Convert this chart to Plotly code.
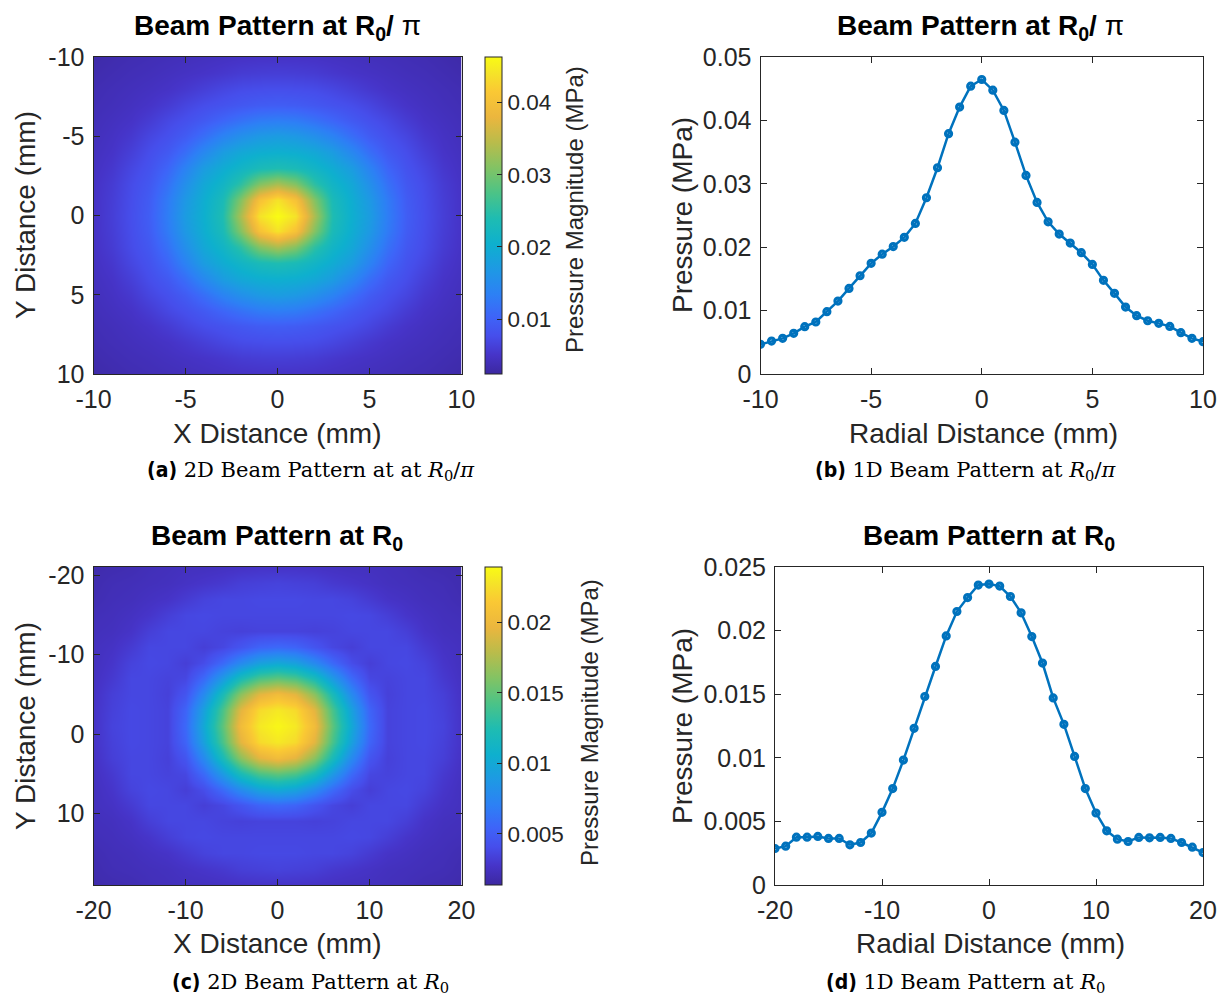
import numpy as np
import plotly.graph_objects as go

# ---------------------------------------------------------------------------
# Data
# ---------------------------------------------------------------------------
# 1D beam pattern at R0/pi : radial distance (mm) and pressure (MPa)
radial_b_mm = np.linspace(-10, 10, 41)
pressure_b_mpa = [
    0.00468, 0.00520, 0.00562, 0.00641, 0.00746, 0.00820, 0.00983, 0.01150,
    0.01350, 0.01550, 0.01745, 0.01890, 0.02010, 0.02155, 0.02375, 0.02780,
    0.03253, 0.03790, 0.04210, 0.04540, 0.04645, 0.04477, 0.04157, 0.03657,
    0.03132, 0.02706, 0.02401, 0.02207, 0.02065, 0.01913, 0.01729, 0.01477,
    0.01272, 0.01056, 0.00920, 0.00840, 0.00799, 0.00751, 0.00652, 0.00562,
    0.00510,
]

# 1D beam pattern at R0 : radial distance (mm) and pressure (MPa)
radial_d_mm = np.linspace(-20, 20, 41)
pressure_d_mpa = [
    0.00287, 0.00305, 0.00376, 0.00376, 0.00382, 0.00366, 0.00366, 0.00316,
    0.00334, 0.00408, 0.00571, 0.00758, 0.00982, 0.01232, 0.01482, 0.01718,
    0.01958, 0.02150, 0.02260, 0.02358, 0.02366, 0.02350, 0.02268, 0.02140,
    0.01953, 0.01745, 0.01471, 0.01263, 0.01011, 0.00758, 0.00566, 0.00426,
    0.00360, 0.00342, 0.00374, 0.00371, 0.00374, 0.00366, 0.00334, 0.00297,
    0.00255,
]

# 2D beam pattern at R0/pi : scan grid (mm) and pressure magnitude (kPa)
x_a_mm = list(range(-10, 11))
y_a_mm = list(range(-10, 11))
pressure_a_kpa = [
    [3.0, 3.3, 3.6, 3.8, 4.0, 4.2, 4.4, 4.6, 4.8, 4.9, 4.9, 4.9, 4.8, 4.6, 4.4, 4.2, 4.0, 3.8, 3.6, 3.3, 3.0],
    [3.3, 3.6, 3.9, 4.1, 4.4, 4.7, 5.0, 5.4, 5.8, 6.0, 6.1, 6.0, 5.8, 5.4, 5.0, 4.7, 4.4, 4.1, 3.9, 3.6, 3.3],
    [3.6, 3.9, 4.2, 4.5, 4.9, 5.5, 6.2, 6.9, 7.4, 7.6, 7.7, 7.6, 7.4, 6.9, 6.2, 5.5, 4.9, 4.5, 4.2, 3.9, 3.6],
    [3.8, 4.1, 4.5, 5.0, 5.8, 6.8, 7.6, 8.2, 8.8, 9.3, 9.5, 9.3, 8.8, 8.2, 7.6, 6.8, 5.8, 5.0, 4.5, 4.1, 3.8],
    [4.0, 4.4, 4.9, 5.8, 7.0, 7.9, 9.0, 10.4, 11.7, 12.8, 13.1, 12.8, 11.7, 10.4, 9.0, 7.9, 7.0, 5.8, 4.9, 4.4, 4.0],
    [4.2, 4.7, 5.5, 6.8, 7.9, 9.3, 11.4, 13.8, 15.6, 16.9, 17.4, 16.9, 15.6, 13.8, 11.4, 9.3, 7.9, 6.8, 5.5, 4.7, 4.2],
    [4.4, 5.0, 6.2, 7.6, 9.0, 11.4, 14.5, 17.4, 19.1, 20.0, 20.3, 20.0, 19.1, 17.4, 14.5, 11.4, 9.0, 7.6, 6.2, 5.0, 4.4],
    [4.6, 5.4, 6.9, 8.2, 10.4, 13.8, 17.4, 19.7, 21.5, 23.2, 23.9, 23.2, 21.5, 19.7, 17.4, 13.8, 10.4, 8.2, 6.9, 5.4, 4.6],
    [4.8, 5.8, 7.4, 8.8, 11.7, 15.6, 19.1, 21.5, 25.1, 31.0, 33.5, 31.0, 25.1, 21.5, 19.1, 15.6, 11.7, 8.8, 7.4, 5.8, 4.8],
    [4.9, 6.0, 7.6, 9.3, 12.8, 16.9, 20.0, 23.2, 31.0, 40.5, 44.0, 40.5, 31.0, 23.2, 20.0, 16.9, 12.8, 9.3, 7.6, 6.0, 4.9],
    [4.9, 6.1, 7.7, 9.5, 13.1, 17.4, 20.3, 23.9, 33.5, 44.0, 46.4, 44.0, 33.5, 23.9, 20.3, 17.4, 13.1, 9.5, 7.7, 6.1, 4.9],
    [4.9, 6.0, 7.6, 9.3, 12.8, 16.9, 20.0, 23.2, 31.0, 40.5, 44.0, 40.5, 31.0, 23.2, 20.0, 16.9, 12.8, 9.3, 7.6, 6.0, 4.9],
    [4.8, 5.8, 7.4, 8.8, 11.7, 15.6, 19.1, 21.5, 25.1, 31.0, 33.5, 31.0, 25.1, 21.5, 19.1, 15.6, 11.7, 8.8, 7.4, 5.8, 4.8],
    [4.6, 5.4, 6.9, 8.2, 10.4, 13.8, 17.4, 19.7, 21.5, 23.2, 23.9, 23.2, 21.5, 19.7, 17.4, 13.8, 10.4, 8.2, 6.9, 5.4, 4.6],
    [4.4, 5.0, 6.2, 7.6, 9.0, 11.4, 14.5, 17.4, 19.1, 20.0, 20.3, 20.0, 19.1, 17.4, 14.5, 11.4, 9.0, 7.6, 6.2, 5.0, 4.4],
    [4.2, 4.7, 5.5, 6.8, 7.9, 9.3, 11.4, 13.8, 15.6, 16.9, 17.4, 16.9, 15.6, 13.8, 11.4, 9.3, 7.9, 6.8, 5.5, 4.7, 4.2],
    [4.0, 4.4, 4.9, 5.8, 7.0, 7.9, 9.0, 10.4, 11.7, 12.8, 13.1, 12.8, 11.7, 10.4, 9.0, 7.9, 7.0, 5.8, 4.9, 4.4, 4.0],
    [3.8, 4.1, 4.5, 5.0, 5.8, 6.8, 7.6, 8.2, 8.8, 9.3, 9.5, 9.3, 8.8, 8.2, 7.6, 6.8, 5.8, 5.0, 4.5, 4.1, 3.8],
    [3.6, 3.9, 4.2, 4.5, 4.9, 5.5, 6.2, 6.9, 7.4, 7.6, 7.7, 7.6, 7.4, 6.9, 6.2, 5.5, 4.9, 4.5, 4.2, 3.9, 3.6],
    [3.3, 3.6, 3.9, 4.1, 4.4, 4.7, 5.0, 5.4, 5.8, 6.0, 6.1, 6.0, 5.8, 5.4, 5.0, 4.7, 4.4, 4.1, 3.9, 3.6, 3.3],
    [3.0, 3.3, 3.6, 3.8, 4.0, 4.2, 4.4, 4.6, 4.8, 4.9, 4.9, 4.9, 4.8, 4.6, 4.4, 4.2, 4.0, 3.8, 3.6, 3.3, 3.0],
]

# 2D beam pattern at R0 : scan grid (mm) and pressure magnitude (kPa)
x_c_mm = list(range(-20, 21, 2))
y_c_mm = list(range(-21, 20, 2))
pressure_c_kpa = [
    [1.8, 1.9, 2.0, 2.2, 2.3, 2.4, 2.4, 2.5, 2.6, 2.7, 2.7, 2.7, 2.6, 2.5, 2.4, 2.4, 2.3, 2.2, 2.0, 1.9, 1.8],
    [1.9, 2.1, 2.2, 2.3, 2.4, 2.6, 2.8, 3.0, 3.3, 3.4, 3.5, 3.4, 3.3, 3.0, 2.8, 2.6, 2.4, 2.3, 2.2, 2.1, 1.9],
    [2.0, 2.2, 2.3, 2.5, 2.7, 3.1, 3.5, 3.7, 3.7, 3.8, 3.8, 3.8, 3.7, 3.7, 3.5, 3.1, 2.7, 2.5, 2.3, 2.2, 2.0],
    [2.2, 2.3, 2.5, 2.8, 3.3, 3.7, 3.8, 3.7, 3.7, 3.7, 3.7, 3.7, 3.7, 3.7, 3.8, 3.7, 3.3, 2.8, 2.5, 2.3, 2.2],
    [2.3, 2.4, 2.7, 3.3, 3.7, 3.7, 3.7, 3.5, 3.4, 3.5, 3.5, 3.5, 3.4, 3.5, 3.7, 3.7, 3.7, 3.3, 2.7, 2.4, 2.3],
    [2.4, 2.6, 3.1, 3.7, 3.7, 3.7, 3.3, 3.7, 4.5, 5.4, 5.7, 5.4, 4.5, 3.7, 3.3, 3.7, 3.7, 3.7, 3.1, 2.6, 2.4],
    [2.4, 2.8, 3.5, 3.8, 3.7, 3.3, 4.0, 5.7, 7.7, 9.4, 10.0, 9.4, 7.7, 5.7, 4.0, 3.3, 3.7, 3.8, 3.5, 2.8, 2.4],
    [2.5, 3.0, 3.7, 3.7, 3.5, 3.7, 5.7, 8.8, 12.0, 14.1, 14.8, 14.1, 12.0, 8.8, 5.7, 3.7, 3.5, 3.7, 3.7, 3.0, 2.5],
    [2.6, 3.3, 3.7, 3.7, 3.4, 4.5, 7.7, 12.0, 16.3, 19.3, 20.3, 19.3, 16.3, 12.0, 7.7, 4.5, 3.4, 3.7, 3.7, 3.3, 2.6],
    [2.7, 3.4, 3.8, 3.7, 3.5, 5.4, 9.4, 14.1, 19.3, 22.3, 23.0, 22.3, 19.3, 14.1, 9.4, 5.4, 3.5, 3.7, 3.8, 3.4, 2.7],
    [2.7, 3.5, 3.8, 3.7, 3.5, 5.7, 10.0, 14.8, 20.3, 23.0, 23.7, 23.0, 20.3, 14.8, 10.0, 5.7, 3.5, 3.7, 3.8, 3.5, 2.7],
    [2.7, 3.4, 3.8, 3.7, 3.5, 5.4, 9.4, 14.1, 19.3, 22.3, 23.0, 22.3, 19.3, 14.1, 9.4, 5.4, 3.5, 3.7, 3.8, 3.4, 2.7],
    [2.6, 3.3, 3.7, 3.7, 3.4, 4.5, 7.7, 12.0, 16.3, 19.3, 20.3, 19.3, 16.3, 12.0, 7.7, 4.5, 3.4, 3.7, 3.7, 3.3, 2.6],
    [2.5, 3.0, 3.7, 3.7, 3.5, 3.7, 5.7, 8.8, 12.0, 14.1, 14.8, 14.1, 12.0, 8.8, 5.7, 3.7, 3.5, 3.7, 3.7, 3.0, 2.5],
    [2.4, 2.8, 3.5, 3.8, 3.7, 3.3, 4.0, 5.7, 7.7, 9.4, 10.0, 9.4, 7.7, 5.7, 4.0, 3.3, 3.7, 3.8, 3.5, 2.8, 2.4],
    [2.4, 2.6, 3.1, 3.7, 3.7, 3.7, 3.3, 3.7, 4.5, 5.4, 5.7, 5.4, 4.5, 3.7, 3.3, 3.7, 3.7, 3.7, 3.1, 2.6, 2.4],
    [2.3, 2.4, 2.7, 3.3, 3.7, 3.7, 3.7, 3.5, 3.4, 3.5, 3.5, 3.5, 3.4, 3.5, 3.7, 3.7, 3.7, 3.3, 2.7, 2.4, 2.3],
    [2.2, 2.3, 2.5, 2.8, 3.3, 3.7, 3.8, 3.7, 3.7, 3.7, 3.7, 3.7, 3.7, 3.7, 3.8, 3.7, 3.3, 2.8, 2.5, 2.3, 2.2],
    [2.0, 2.2, 2.3, 2.5, 2.7, 3.1, 3.5, 3.7, 3.7, 3.8, 3.8, 3.8, 3.7, 3.7, 3.5, 3.1, 2.7, 2.5, 2.3, 2.2, 2.0],
    [1.9, 2.1, 2.2, 2.3, 2.4, 2.6, 2.8, 3.0, 3.3, 3.4, 3.5, 3.4, 3.3, 3.0, 2.8, 2.6, 2.4, 2.3, 2.2, 2.1, 1.9],
    [1.8, 1.9, 2.0, 2.2, 2.3, 2.4, 2.4, 2.5, 2.6, 2.7, 2.7, 2.7, 2.6, 2.5, 2.4, 2.4, 2.3, 2.2, 2.0, 1.9, 1.8],
]

# colour limits of the two maps (MPa)
clim_a = [0.0024, 0.0463]
clim_c = [0.00138, 0.0239]

cbar_ticks_a = [0.01, 0.02, 0.03, 0.04]
cbar_ticks_c = [0.005, 0.01, 0.015, 0.02]
xticks_a = [-10, -5, 0, 5, 10]
yticks_a = [-10, -5, 0, 5, 10]
xticks_c = [-20, -10, 0, 10, 20]
yticks_c = [-20, -10, 0, 10]
yticks_b = [0, 0.01, 0.02, 0.03, 0.04, 0.05]
yticks_d = [0, 0.005, 0.01, 0.015, 0.02, 0.025]

# ---------------------------------------------------------------------------
# Styling helpers
# ---------------------------------------------------------------------------
W, H = 1224, 996
FONT = "Liberation Sans, Arial, Helvetica, sans-serif"
SERIF = "DejaVu Serif, Liberation Serif, serif"
INK = "#262626"
LINE_BLUE = "#0072BD"

parula = [
    [0.00, "rgb(60,40,160)"],
    [0.06, "rgb(70,52,200)"],
    [0.12, "rgb(70,78,235)"],
    [0.18, "rgb(62,100,248)"],
    [0.25, "rgb(45,128,245)"],
    [0.33, "rgb(30,153,228)"],
    [0.41, "rgb(14,176,206)"],
    [0.49, "rgb(30,188,178)"],
    [0.57, "rgb(75,195,135)"],
    [0.65, "rgb(130,195,100)"],
    [0.73, "rgb(185,188,75)"],
    [0.81, "rgb(235,182,62)"],
    [0.89, "rgb(250,200,52)"],
    [0.95, "rgb(245,228,40)"],
    [1.00, "rgb(249,251,20)"],
]


def px(x):
    return x / W


def py(y):
    return 1 - y / H


def fmt(v):
    # plain hyphen-minus, shortest form (e.g. 0.005, -10)
    return "%g" % v


# plot-area boxes in pixels: (left, right, top, bottom)
box_a = (93.5, 461.5, 57, 374)
box_b = (760.5, 1203, 57, 374)
box_c = (93.5, 461.5, 567, 885)
box_d = (775, 1203, 567, 885)


def dom(box):
    l, r, t, b = box
    return [px(l), px(r)], [py(b), py(t)]


axis_common = dict(
    showline=True, linecolor=INK, linewidth=1, mirror="ticks",
    ticks="inside", ticklen=6, tickcolor=INK, tickwidth=1,
    showgrid=False, zeroline=False, ticklabelstandoff=3,
    tickfont=dict(family=FONT, size=25, color=INK),
)


def ticks(vals):
    return dict(tickvals=vals, ticktext=[fmt(v) for v in vals])


def colorbar(box, vals):
    return dict(
        x=px(485), xanchor="left", xpad=0, ypad=0,
        y=py((box[2] + box[3]) / 2), yanchor="middle",
        len=(box[3] - box[2]) / H, lenmode="fraction",
        thickness=17, thicknessmode="pixels",
        outlinecolor=INK, outlinewidth=1,
        ticks="inside", ticklen=5, tickcolor=INK,
        tickfont=dict(family=FONT, size=22.5, color=INK),
        **ticks(vals),
    )


marker_style = dict(symbol="circle-open", size=6,
                    line=dict(color=LINE_BLUE, width=3.2))

fig = go.Figure()

# --- (a) 2D map at R0/pi
fig.add_trace(go.Heatmap(
    x=x_a_mm, y=y_a_mm, z=np.array(pressure_a_kpa) / 1000.0,
    zsmooth="best", colorscale=parula, zmin=clim_a[0], zmax=clim_a[1],
    xaxis="x", yaxis="y", colorbar=colorbar(box_a, cbar_ticks_a),
))

# --- (b) 1D profile at R0/pi
fig.add_trace(go.Scatter(
    x=radial_b_mm, y=pressure_b_mpa, mode="lines+markers",
    line=dict(color=LINE_BLUE, width=2.5), marker=marker_style,
    xaxis="x2", yaxis="y2", showlegend=False,
))

# --- (c) 2D map at R0
fig.add_trace(go.Heatmap(
    x=x_c_mm, y=y_c_mm, z=np.array(pressure_c_kpa) / 1000.0,
    zsmooth="best", colorscale=parula, zmin=clim_c[0], zmax=clim_c[1],
    xaxis="x3", yaxis="y3", colorbar=colorbar(box_c, cbar_ticks_c),
))

# --- (d) 1D profile at R0
fig.add_trace(go.Scatter(
    x=radial_d_mm, y=pressure_d_mpa, mode="lines+markers",
    line=dict(color=LINE_BLUE, width=2.5), marker=marker_style,
    xaxis="x4", yaxis="y4", showlegend=False,
))

xa_dom, ya_dom = dom(box_a)
xb_dom, yb_dom = dom(box_b)
xc_dom, yc_dom = dom(box_c)
xd_dom, yd_dom = dom(box_d)

fig.update_layout(
    width=W, height=H,
    margin=dict(l=0, r=0, t=0, b=0, pad=0, autoexpand=False),
    paper_bgcolor="white", plot_bgcolor="white",
    showlegend=False,
    xaxis=dict(domain=xa_dom, anchor="y", range=[-10, 10],
               **ticks(xticks_a), **axis_common),
    yaxis=dict(domain=ya_dom, anchor="x", range=[10, -10],
               **ticks(yticks_a), **axis_common),
    xaxis2=dict(domain=xb_dom, anchor="y2", range=[-10, 10],
                **ticks(xticks_a), **axis_common),
    yaxis2=dict(domain=yb_dom, anchor="x2", range=[0, 0.05],
                **ticks(yticks_b), **axis_common),
    xaxis3=dict(domain=xc_dom, anchor="y3", range=[-20, 20],
                **ticks(xticks_c), **axis_common),
    yaxis3=dict(domain=yc_dom, anchor="x3", range=[19.03, -21.05],
                **ticks(yticks_c), **axis_common),
    xaxis4=dict(domain=xd_dom, anchor="y4", range=[-20, 20],
                **ticks(xticks_c), **axis_common),
    yaxis4=dict(domain=yd_dom, anchor="x4", range=[0, 0.025],
                **ticks(yticks_d), **axis_common),
)

# ---------------------------------------------------------------------------
# Text: panel titles, axis titles, colorbar labels and captions
# ---------------------------------------------------------------------------
annotations = []


def add_text(text, x, y, size, angle=0, family=FONT, color="black",
             xanchor="center", yanchor="middle"):
    annotations.append(dict(
        text=text, x=px(x), y=py(y), xref="paper", yref="paper",
        showarrow=False, textangle=angle, xanchor=xanchor, yanchor=yanchor,
        font=dict(family=family, size=size, color=color),
    ))


title_rpi = "<b>Beam Pattern at R<sub>0</sub>/</b> π"
title_r0 = "<b>Beam Pattern at R<sub>0</sub></b>"
add_text(title_rpi, 277, 27, 28)
add_text(title_rpi, 980, 27, 28)
add_text(title_r0, 277, 537, 28)
add_text(title_r0, 989, 537, 28)

add_text("X Distance (mm)", 277, 433, 28, color=INK)
add_text("Y Distance (mm)", 25, 215, 28, angle=-90, color=INK)
add_text("Radial Distance (mm)", 983, 433, 28, color=INK)
add_text("Pressure (MPa)", 682, 215, 28, angle=-90, color=INK)
add_text("X Distance (mm)", 277, 943, 28, color=INK)
add_text("Y Distance (mm)", 25, 726, 28, angle=-90, color=INK)
add_text("Radial Distance (mm)", 990, 943, 28, color=INK)
add_text("Pressure (MPa)", 682, 726, 28, angle=-90, color=INK)

add_text("Pressure Magnitude (MPa)", 575, 210, 24, angle=-90, color=INK)
add_text("Pressure Magnitude (MPa)", 589, 723, 24, angle=-90, color=INK)

LBL = ("<span style='font-family:Liberation Sans Narrow, DejaVu Sans Condensed, "
       "Liberation Sans'><b>({})</b></span> ")
R0 = "<i>R</i><sub>0</sub>"
add_text(LBL.format("a") + "2D Beam Pattern at at " + R0 + "/<i>π</i>",
         311, 471, 21, family=SERIF)
add_text(LBL.format("b") + "1D Beam Pattern at " + R0 + "/<i>π</i>",
         965, 471, 21, family=SERIF)
add_text(LBL.format("c") + "2D Beam Pattern at " + R0,
         310, 983, 21, family=SERIF)
add_text(LBL.format("d") + "1D Beam Pattern at " + R0,
         965, 983, 21, family=SERIF)

fig.update_layout(annotations=annotations)

fig.write_html("out.html")
